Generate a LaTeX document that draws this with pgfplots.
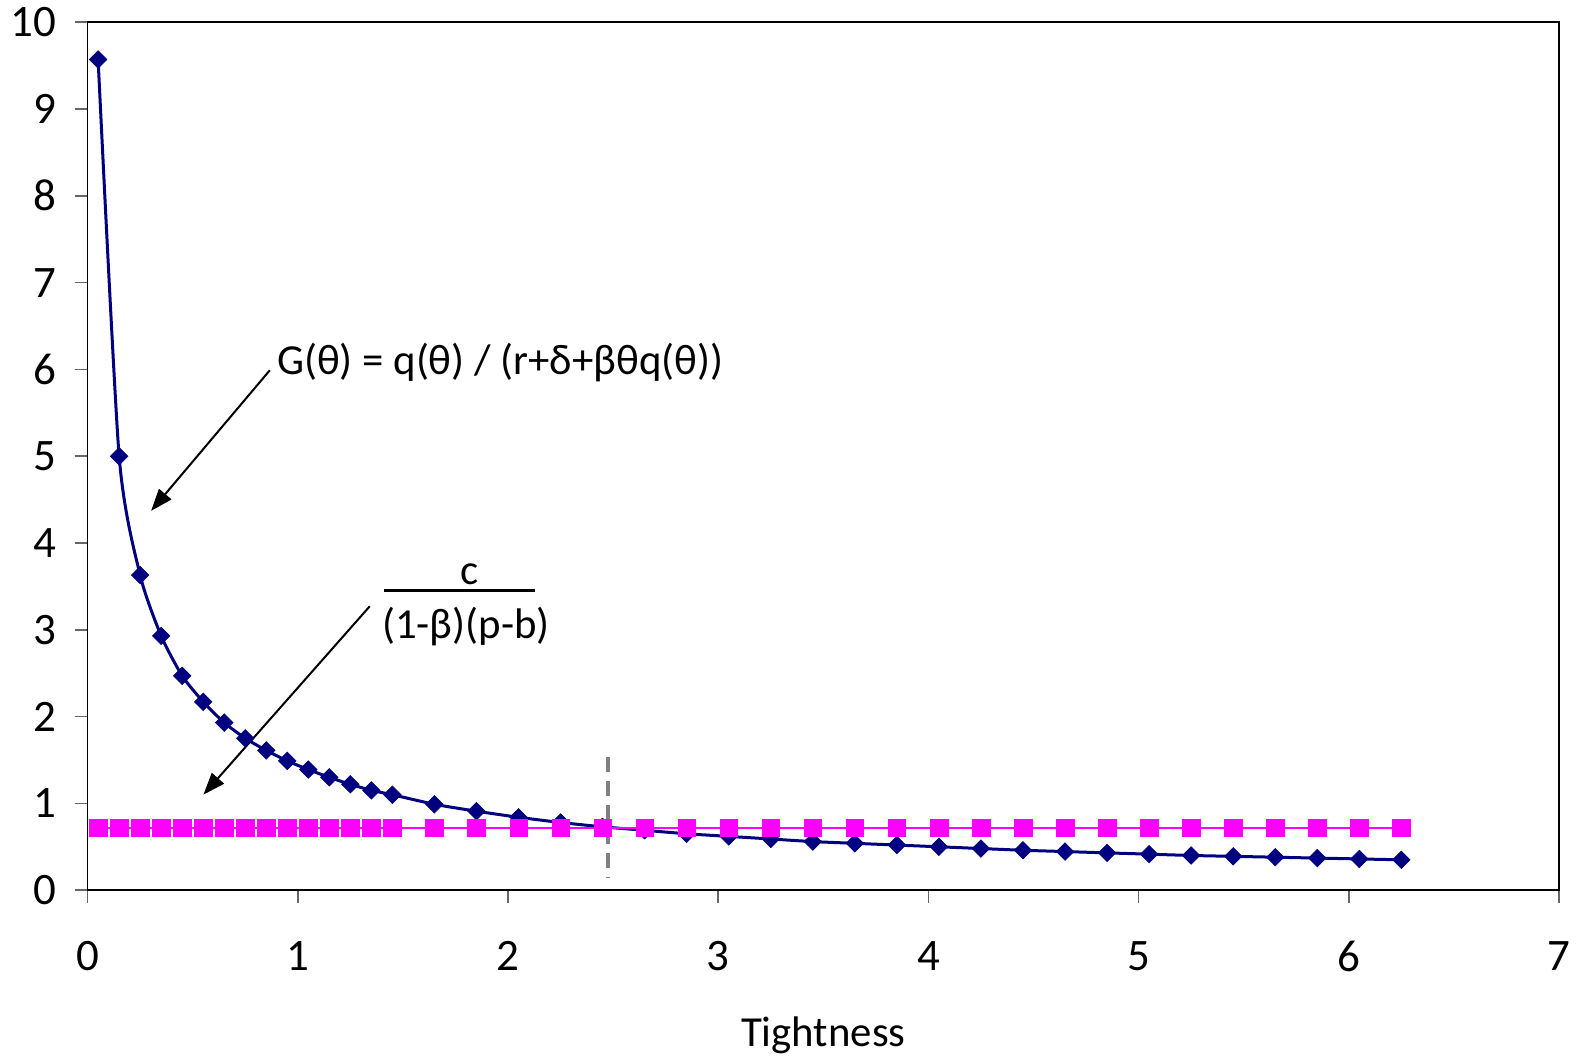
\documentclass[border=0pt]{standalone}
\usepackage{pgfplots}
\pgfplotsset{compat=1.18}
\usepackage{pgfplotstable}
\usepackage{fontspec}
\setmainfont{Carlito}
\usetikzlibrary{arrows.meta}
\definecolor{navyb}{RGB}{0,0,128}
\definecolor{magp}{RGB}{255,0,255}
\pgfplotstableread{
x G C
0.05 9.57 0.72
0.15 5.00 0.72
0.25 3.63 0.72
0.35 2.93 0.72
0.45 2.47 0.72
0.55 2.17 0.72
0.65 1.93 0.72
0.75 1.75 0.72
0.85 1.61 0.72
0.95 1.49 0.72
1.05 1.39 0.72
1.15 1.30 0.72
1.25 1.22 0.72
1.35 1.15 0.72
1.45 1.10 0.72
1.65 0.99 0.72
1.85 0.91 0.72
2.05 0.84 0.72
2.25 0.78 0.72
2.45 0.73 0.72
2.65 0.69 0.72
2.85 0.65 0.72
3.05 0.62 0.72
3.25 0.59 0.72
3.45 0.56 0.72
3.65 0.54 0.72
3.85 0.52 0.72
4.05 0.50 0.72
4.25 0.48 0.72
4.45 0.46 0.72
4.65 0.445 0.72
4.85 0.43 0.72
5.05 0.415 0.72
5.25 0.40 0.72
5.45 0.39 0.72
5.65 0.38 0.72
5.85 0.37 0.72
6.05 0.36 0.72
6.25 0.35 0.72
}\datatable
\begin{document}
\begin{tikzpicture}[font=\fontsize{21.4}{25}\selectfont]
\begin{axis}[
  scale only axis, width=735.7pt, height=434pt,
  xmin=0, xmax=7, ymin=0, ymax=10,
  xtick={0,...,7}, ytick={0,...,10},
  tick align=outside, major tick length=6.5pt,
  tick pos=left,
  tick style={black!60, line width=0.8pt},
  axis line style={line width=0.9pt, black},
  /pgf/number format/assume math mode=true,
  ticklabel style={font=\fontsize{22.5}{26}\selectfont, inner sep=1pt},
  xticklabel shift=18pt, yticklabel shift=8pt,
  clip=false,
]
\addplot[navyb, line width=1.5pt, smooth, tension=0.4, mark=square*, mark size=3.1pt,
  mark options={rotate=45, solid, fill=navyb, draw=navyb, line width=0.3pt}]
  table[x=x, y=G] {\datatable};
\addplot[magp, line width=1.2pt, mark=square*, mark size=4.4pt,
  mark options={fill=magp, draw=magp, line width=0.2pt}]
  table[x=x, y=C] {\datatable};
\draw[black!50, line width=2pt, dash pattern=on 7.5pt off 4.5pt] (axis cs:2.477,1.53) -- (axis cs:2.477,0.14);
\draw[black, line width=1pt, -{Triangle[length=11pt,width=8pt]}] (axis cs:0.867,5.99) -- (axis cs:0.302,4.37);
\draw[black, line width=1pt, -{Triangle[length=11pt,width=8pt]}] (axis cs:1.342,3.27) -- (axis cs:0.551,1.10);
\node[anchor=west, inner sep=0pt] at (axis cs:0.90,6.08) {G(θ) = q(θ) / (r+δ+βθq(θ))};
\node[inner sep=0pt] at (axis cs:1.816,3.64) {c};
\draw[black, line width=1.6pt] (axis cs:1.409,3.457) -- (axis cs:2.127,3.457);
\node[inner sep=0pt] at (axis cs:1.80,3.04) {(1-β)(p-b)};
\node[anchor=base, inner sep=0pt] at (axis description cs:0.5,0) [yshift=-78pt] {Tightness};
\path (rel axis cs:0,0) ++(-43.8pt,-84.4pt) coordinate (bbsw);
\path (bbsw) rectangle ++(789.5pt,529.5pt);
\end{axis}
\end{tikzpicture}
\end{document}
